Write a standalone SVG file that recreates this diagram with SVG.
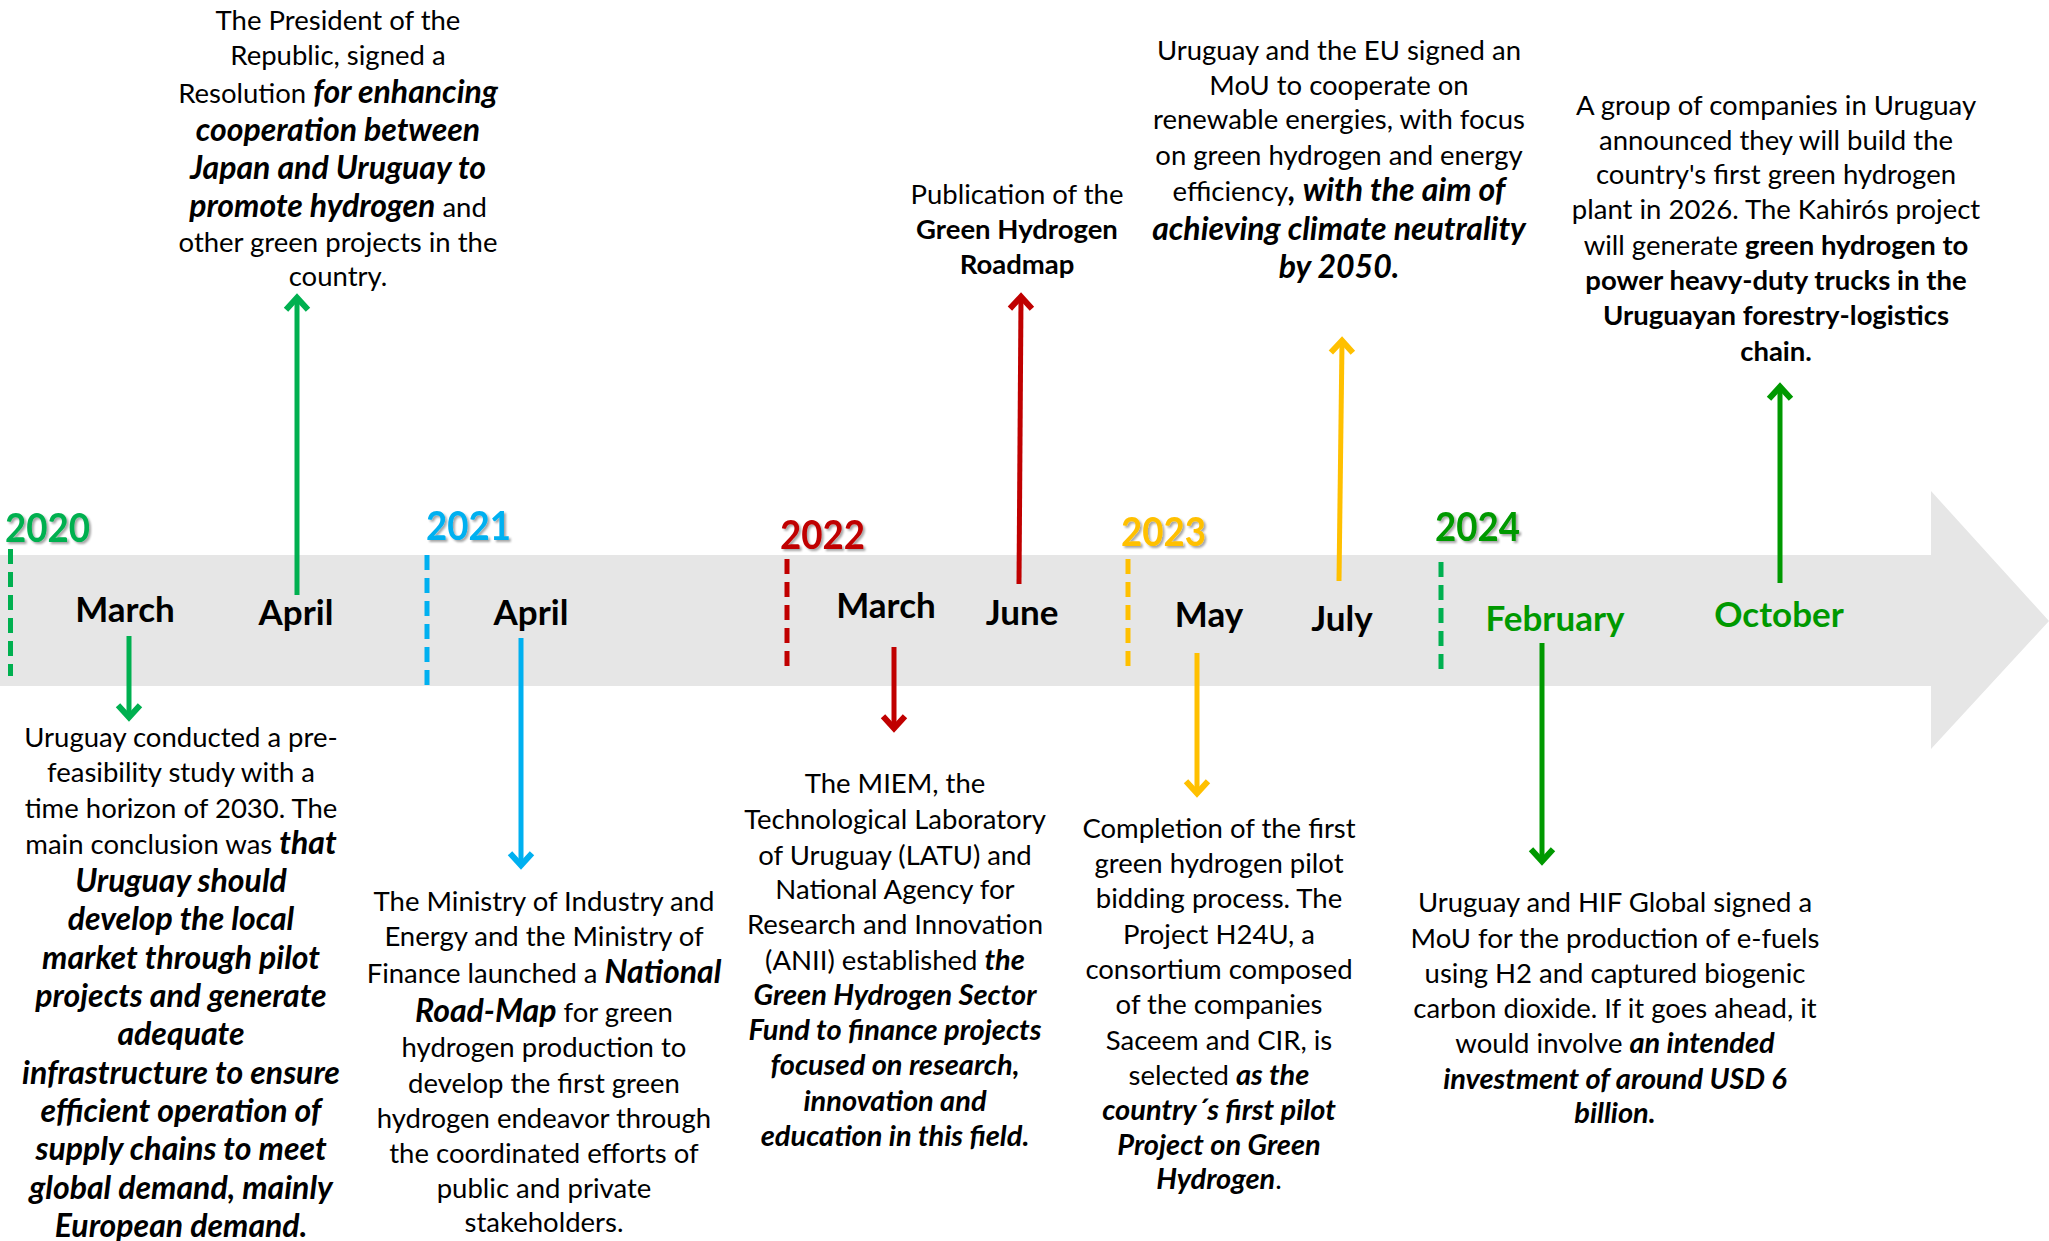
<svg xmlns="http://www.w3.org/2000/svg" width="2049" height="1241" viewBox="0 0 2049 1241">
<defs>
<style>
.t{font-family:Lato,"Liberation Sans",sans-serif;font-size:27.5px;fill:#000;text-anchor:middle}
.bi{font-weight:700;font-style:italic;font-size:29px}
.bL{font-weight:700;font-style:italic;font-size:32px}
.b{font-weight:700}
.mo{font-family:Lato,"Liberation Sans",sans-serif;font-weight:700;font-size:35px;text-anchor:middle;fill:#000}
.yr{font-family:Lato,"Liberation Sans",sans-serif;font-weight:700;font-size:41px;filter:url(#sh)}
.dash{stroke-width:5;stroke-dasharray:15 8;fill:none}
.arr{stroke-width:5;fill:none}
.g1{stroke:#00b050}.g2{stroke:#009900}.bl{stroke:#00b0f0}.rd{stroke:#c00000}.or{stroke:#ffc000}
</style>
<filter id="sh" x="-10%" y="-10%" width="130%" height="140%"><feDropShadow dx="2" dy="2" stdDeviation="1" flood-color="#000" flood-opacity="0.35"/></filter>
<marker id="mg1" markerUnits="userSpaceOnUse" viewBox="-20 -20 40 40" markerWidth="40" markerHeight="40" refX="0" refY="0" orient="auto"><path d="M-10.7,-11 L1.3,0 L-10.7,11" fill="none" stroke="#00b050" stroke-width="6"/></marker>
<marker id="mg2" markerUnits="userSpaceOnUse" viewBox="-20 -20 40 40" markerWidth="40" markerHeight="40" refX="0" refY="0" orient="auto"><path d="M-10.7,-11 L1.3,0 L-10.7,11" fill="none" stroke="#009900" stroke-width="6"/></marker>
<marker id="mbl" markerUnits="userSpaceOnUse" viewBox="-20 -20 40 40" markerWidth="40" markerHeight="40" refX="0" refY="0" orient="auto"><path d="M-10.7,-11 L1.3,0 L-10.7,11" fill="none" stroke="#00b0f0" stroke-width="6"/></marker>
<marker id="mrd" markerUnits="userSpaceOnUse" viewBox="-20 -20 40 40" markerWidth="40" markerHeight="40" refX="0" refY="0" orient="auto"><path d="M-10.7,-11 L1.3,0 L-10.7,11" fill="none" stroke="#c00000" stroke-width="6"/></marker>
<marker id="mor" markerUnits="userSpaceOnUse" viewBox="-20 -20 40 40" markerWidth="40" markerHeight="40" refX="0" refY="0" orient="auto"><path d="M-10.7,-11 L1.3,0 L-10.7,11" fill="none" stroke="#ffc000" stroke-width="6"/></marker>
</defs>
<rect width="2049" height="1241" fill="#fff"/>
<g id="timeline-band">
<path d="M0,555 H1931 V491 L2049,621 L1931,749 V686 H0 Z" fill="#e6e6e6"/>
</g>
<g id="year-markers">
<line class="dash g1" x1="10.5" y1="549" x2="10.5" y2="676"/>
<line class="dash bl" x1="427" y1="555" x2="427" y2="686"/>
<line class="dash rd" x1="787" y1="559" x2="787" y2="674"/>
<line class="dash or" x1="1128" y1="559" x2="1128" y2="674"/>
<line class="dash g1" x1="1441" y1="562" x2="1441" y2="677"/>
<text class="yr" x="5" y="542" fill="#00b050" textLength="85" lengthAdjust="spacingAndGlyphs">2020</text>
<text class="yr" x="426" y="540" fill="#00b0f0" textLength="85" lengthAdjust="spacingAndGlyphs">2021</text>
<text class="yr" x="780" y="549" fill="#c00000" textLength="85" lengthAdjust="spacingAndGlyphs">2022</text>
<text class="yr" x="1121" y="546" fill="#ffc000" textLength="85" lengthAdjust="spacingAndGlyphs">2023</text>
<text class="yr" x="1435" y="541" fill="#009900" textLength="85" lengthAdjust="spacingAndGlyphs">2024</text>
</g>
<g id="months">
<text class="mo" x="125" y="622">March</text>
<text class="mo" x="296" y="625">April</text>
<text class="mo" x="531" y="625">April</text>
<text class="mo" x="886" y="618">March</text>
<text class="mo" x="1022" y="625">June</text>
<text class="mo" x="1209" y="627">May</text>
<text class="mo" x="1342" y="631">July</text>
<text class="mo" x="1555" y="631" style="fill:#009900">February</text>
<text class="mo" x="1779" y="627" style="fill:#009900">October</text>
</g>
<g id="connectors">
<line class="arr g1" x1="129" y1="636" x2="129" y2="716" marker-end="url(#mg1)"/>
<line class="arr g1" x1="297" y1="595" x2="297" y2="299" marker-end="url(#mg1)"/>
<line class="arr bl" x1="521" y1="638" x2="521" y2="864" marker-end="url(#mbl)"/>
<line class="arr rd" x1="894" y1="647" x2="894" y2="727" marker-end="url(#mrd)"/>
<line class="arr rd" x1="1019" y1="584" x2="1021" y2="298" marker-end="url(#mrd)"/>
<line class="arr or" x1="1197" y1="653" x2="1197" y2="792" marker-end="url(#mor)"/>
<line class="arr or" x1="1339" y1="581" x2="1342" y2="342" marker-end="url(#mor)"/>
<line class="arr g2" x1="1542" y1="643" x2="1542" y2="860" marker-end="url(#mg2)"/>
<line class="arr g2" x1="1780" y1="583" x2="1780" y2="388" marker-end="url(#mg2)"/>
</g>
<g id="event-2020-april">
<text class="t" x="338" y="30">The President of the</text>
<text class="t" x="338" y="65">Republic, signed a</text>
<text class="t" x="338" y="103">Resolution <tspan class="bL">for enhancing</tspan></text>
<text class="t bL" x="338" y="141">cooperation between</text>
<text class="t bL" x="338" y="179">Japan and Uruguay to</text>
<text class="t" x="338" y="217"><tspan class="bL">promote hydrogen</tspan> and</text>
<text class="t" x="338" y="252">other green projects in the</text>
<text class="t" x="338" y="286">country.</text>
</g>
<g id="event-2020-march">
<text class="t" x="181" y="747">Uruguay conducted a pre-</text>
<text class="t" x="181" y="782">feasibility study with a</text>
<text class="t" x="181" y="818">time horizon of 2030. The</text>
<text class="t" x="181" y="854">main conclusion was <tspan class="bL">that</tspan></text>
<text class="t bL" x="181" y="892">Uruguay should</text>
<text class="t bL" x="181" y="930">develop the local</text>
<text class="t bL" x="181" y="969">market through pilot</text>
<text class="t bL" x="181" y="1007">projects and generate</text>
<text class="t bL" x="181" y="1045">adequate</text>
<text class="t bL" x="181" y="1084">infrastructure to ensure</text>
<text class="t bL" x="181" y="1122">efficient operation of</text>
<text class="t bL" x="181" y="1160">supply chains to meet</text>
<text class="t bL" x="181" y="1199">global demand, mainly</text>
<text class="t bL" x="181" y="1237">European demand.</text>
</g>
<g id="event-2021-april">
<text class="t" x="544" y="911">The Ministry of Industry and</text>
<text class="t" x="544" y="946">Energy and the Ministry of</text>
<text class="t" x="544" y="983">Finance launched a <tspan class="bL">National</tspan></text>
<text class="t" x="544" y="1022"><tspan class="bL">Road-Map</tspan> for green</text>
<text class="t" x="544" y="1057">hydrogen production to</text>
<text class="t" x="544" y="1093">develop the first green</text>
<text class="t" x="544" y="1128">hydrogen endeavor through</text>
<text class="t" x="544" y="1163">the coordinated efforts of</text>
<text class="t" x="544" y="1198">public and private</text>
<text class="t" x="544" y="1232">stakeholders.</text>
</g>
<g id="event-2022-march">
<text class="t" x="895" y="793">The MIEM, the</text>
<text class="t" x="895" y="829">Technological Laboratory</text>
<text class="t" x="895" y="865">of Uruguay (LATU) and</text>
<text class="t" x="895" y="899">National Agency for</text>
<text class="t" x="895" y="934">Research and Innovation</text>
<text class="t" x="895" y="970">(ANII) established <tspan class="bi">the</tspan></text>
<text class="t bi" x="895" y="1005">Green Hydrogen Sector</text>
<text class="t bi" x="895" y="1040">Fund to finance projects</text>
<text class="t bi" x="895" y="1075">focused on research,</text>
<text class="t bi" x="895" y="1111">innovation and</text>
<text class="t bi" x="895" y="1146">education in this field.</text>
</g>
<g id="event-2022-june">
<text class="t" x="1017" y="204">Publication of the</text>
<text class="t b" x="1017" y="239">Green Hydrogen</text>
<text class="t b" x="1017" y="274">Roadmap</text>
</g>
<g id="event-2023-may">
<text class="t" x="1219" y="838">Completion of the first</text>
<text class="t" x="1219" y="873">green hydrogen pilot</text>
<text class="t" x="1219" y="908">bidding process. The</text>
<text class="t" x="1219" y="944">Project H24U, a</text>
<text class="t" x="1219" y="979">consortium composed</text>
<text class="t" x="1219" y="1014">of the companies</text>
<text class="t" x="1219" y="1050">Saceem and CIR, is</text>
<text class="t" x="1219" y="1085">selected <tspan class="bi">as the</tspan></text>
<text class="t bi" x="1219" y="1120">country´s first pilot</text>
<text class="t bi" x="1219" y="1155">Project on Green</text>
<text class="t" x="1219" y="1189"><tspan class="bi">Hydrogen</tspan>.</text>
</g>
<g id="event-2023-july">
<text class="t" x="1339" y="60">Uruguay and the EU signed an</text>
<text class="t" x="1339" y="95">MoU to cooperate on</text>
<text class="t" x="1339" y="129">renewable energies, with focus</text>
<text class="t" x="1339" y="165">on green hydrogen and energy</text>
<text class="t" x="1339" y="201">efficiency<tspan class="bL">, with the aim of</tspan></text>
<text class="t bL" x="1339" y="240">achieving climate neutrality</text>
<text class="t bL" x="1339" y="278">by 2050.</text>
</g>
<g id="event-2024-february">
<text class="t" x="1615" y="912">Uruguay and HIF Global signed a</text>
<text class="t" x="1615" y="948">MoU for the production of e-fuels</text>
<text class="t" x="1615" y="983">using H2 and captured biogenic</text>
<text class="t" x="1615" y="1018">carbon dioxide. If it goes ahead, it</text>
<text class="t" x="1615" y="1053">would involve <tspan class="bi">an intended</tspan></text>
<text class="t bi" x="1615" y="1089">investment of around USD 6</text>
<text class="t bi" x="1615" y="1123">billion.</text>
</g>
<g id="event-2024-october">
<text class="t" x="1776" y="115">A group of companies in Uruguay</text>
<text class="t" x="1776" y="150">announced they will build the</text>
<text class="t" x="1776" y="184">country's first green hydrogen</text>
<text class="t" x="1776" y="219">plant in 2026. The Kahirós project</text>
<text class="t" x="1776" y="255">will generate <tspan class="b">green hydrogen to</tspan></text>
<text class="t b" x="1776" y="290">power heavy-duty trucks in the</text>
<text class="t b" x="1776" y="325">Uruguayan forestry-logistics</text>
<text class="t b" x="1776" y="361">chain.</text>
</g>
</svg>
